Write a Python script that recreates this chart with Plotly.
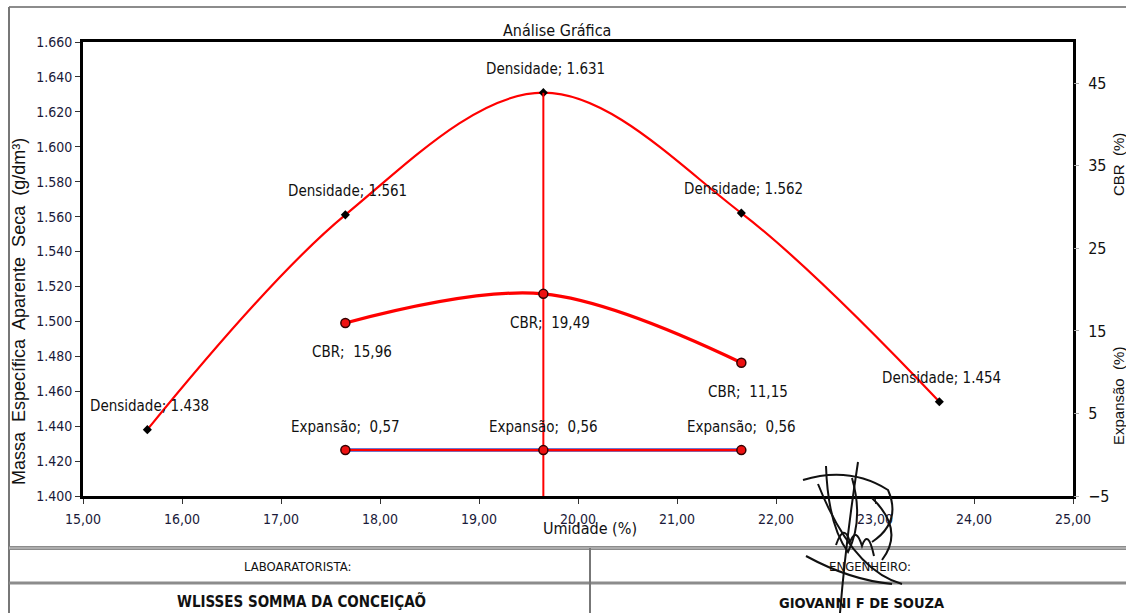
import plotly.graph_objects as go

# Compaction test results
umidade = [15.65, 17.65, 19.65, 21.65, 23.65]
densidade = [1.438, 1.561, 1.631, 1.562, 1.454]

umidade_cbr = [17.65, 19.65, 21.65]
cbr = [15.96, 19.49, 11.15]
expansao = [0.57, 0.56, 0.56]

x_ticks = [15, 16, 17, 18, 19, 20, 21, 22, 23, 24, 25]
x_tick_labels = ["15,00", "16,00", "17,00", "18,00", "19,00", "20,00",
                 "21,00", "22,00", "23,00", "24,00", "25,00"]
y_ticks = [1.40, 1.42, 1.44, 1.46, 1.48, 1.50, 1.52, 1.54, 1.56, 1.58, 1.60, 1.62, 1.64, 1.66]
y_tick_labels = ["1.400", "1.420", "1.440", "1.460", "1.480", "1.500", "1.520", "1.540",
                 "1.560", "1.580", "1.600", "1.620", "1.640", "1.660"]
y2_ticks = [-5, 5, 15, 25, 35, 45]

W, H = 1126, 613
L, R, T, B = 83, 1073, 42, 496

NARROW = "DejaVu Sans Condensed, Liberation Sans Narrow, Arial Narrow, Liberation Sans, sans-serif"
REG = "Liberation Sans, Arial, sans-serif"


def px(x):
    return (x - L) / (R - L)


def py(y):
    return (B - y) / (B - T)


def comma(v):
    return f"{v:.2f}".replace(".", ",")


fig = go.Figure()

# Dry density curve
fig.add_trace(go.Scatter(
    x=umidade, y=densidade, mode="lines+markers",
    line=dict(color="#ff0000", width=2.2, shape="spline", smoothing=1.0),
    marker=dict(symbol="diamond", size=7, color="black"),
    hoverinfo="skip", showlegend=False))

# Optimum moisture marker line
i_max = densidade.index(max(densidade))
fig.add_trace(go.Scatter(
    x=[umidade[i_max], umidade[i_max]], y=[y_ticks[0], densidade[i_max]],
    mode="lines", line=dict(color="#ff0000", width=2),
    hoverinfo="skip", showlegend=False))

# Expansion (secondary axis)
fig.add_trace(go.Scatter(
    x=umidade_cbr, y=expansao, mode="lines", yaxis="y2",
    line=dict(color="#3b4fc4", width=3.5),
    hoverinfo="skip", showlegend=False))
fig.add_trace(go.Scatter(
    x=umidade_cbr, y=expansao, mode="lines+markers", yaxis="y2",
    line=dict(color="#ff0000", width=2.2),
    marker=dict(symbol="circle", size=9, color="#ee1111",
                line=dict(color="#330000", width=1.5)),
    hoverinfo="skip", showlegend=False))

# CBR curve (secondary axis)
fig.add_trace(go.Scatter(
    x=umidade_cbr, y=cbr, mode="lines+markers", yaxis="y2",
    line=dict(color="#ff0000", width=3.2, shape="spline", smoothing=1.0),
    marker=dict(symbol="circle", size=9, color="#ee1111",
                line=dict(color="#330000", width=1.5)),
    hoverinfo="skip", showlegend=False))

annotations = []
label_font = dict(family=NARROW, size=15, color="#111111")
for xv, yv in zip(umidade, densidade):
    annotations.append(dict(x=xv, y=yv, xref="x", yref="y", text=f"Densidade; {yv:.3f}",
                            showarrow=False, yshift=24, xshift=2, font=label_font))
for xv, yv in zip(umidade_cbr, cbr):
    annotations.append(dict(x=xv, y=yv, xref="x", yref="y2", text=f"CBR;  {comma(yv)}",
                            showarrow=False, yshift=-29, xshift=7, font=label_font))
for xv, yv in zip(umidade_cbr, expansao):
    annotations.append(dict(x=xv, y=yv, xref="x", yref="y2", text=f"Expansão;  {comma(yv)}",
                            showarrow=False, yshift=23, xshift=0, font=label_font))


# Titles and axis captions
def text_at(x, y, s, size, family=NARROW, angle=0, bold=False, color="#111111"):
    annotations.append(dict(
        x=px(x), y=py(y), xref="paper", yref="paper",
        text=f"<b>{s}</b>" if bold else s, showarrow=False, textangle=angle,
        xanchor="center", yanchor="middle",
        font=dict(family=family, size=size, color=color)))


text_at(557, 31, "Análise Gráfica", 16)
text_at(590, 528, "Umidade (%)", 16)
text_at(19, 312, "Massa  Específica  Aparente  Seca  (g/dm³)", 18, family=REG, angle=-90)
text_at(1118, 165, "CBR  (%)", 15, family=REG, angle=-90)
text_at(1118, 396, "Expansão  (%)", 15, family=REG, angle=-90)
text_at(297, 566, "LABOARATORISTA:", 13)
text_at(870, 566, "ENGENHEIRO:", 13)
text_at(301, 601, "WLISSES SOMMA DA CONCEIÇAÕ", 15, bold=True)
text_at(862, 603, "GIOVANNI F DE SOUZA", 14.5, bold=True)

shapes = []


def hline(y, x0, x1, color="#8c8c8c", width=3):
    shapes.append(dict(type="line", xref="paper", yref="paper",
                       x0=px(x0), x1=px(x1), y0=py(y), y1=py(y),
                       line=dict(color=color, width=width)))


def vline(x, y0, y1, color="#8c8c8c", width=3):
    shapes.append(dict(type="line", xref="paper", yref="paper",
                       x0=px(x), x1=px(x), y0=py(y0), y1=py(y1),
                       line=dict(color=color, width=width)))


# Sheet frame and signature table
hline(7, 9, 1126, width=2)
vline(9, 7, 613, color="#777777", width=2)
hline(548, 9, 1126, width=4)
hline(548, 9, 1126, color="#cfcfcf", width=1)
hline(583, 9, 1126, width=3)
vline(590, 548, 613, color="#777777", width=2)


# Hand signature strokes
def stroke(points):
    d = "M {} {}".format(px(points[0][0]), py(points[0][1]))
    for i in range(1, len(points) - 1, 2):
        (cx, cy), (ex, ey) = points[i], points[i + 1]
        d += " Q {} {} {} {}".format(px(cx), py(cy), px(ex), py(ey))
    shapes.append(dict(type="path", xref="paper", yref="paper", path=d,
                       line=dict(color="#111111", width=2)))


stroke([(803, 480), (850, 466), (888, 490), (902, 522), (872, 542)])
stroke([(858, 462), (846, 540), (840, 613)])
stroke([(826, 466), (828, 525), (848, 552), (864, 520), (852, 478)])
stroke([(818, 484), (852, 570), (902, 584)])
stroke([(806, 556), (850, 580), (892, 584)])
stroke([(836, 545), (844, 522), (850, 542), (856, 526), (862, 546), (868, 528), (874, 556)])
stroke([(872, 498), (905, 530), (882, 560)])

fig.update_layout(
    width=W, height=H,
    margin=dict(l=L, r=W - R, t=T, b=H - B, pad=0),
    paper_bgcolor="white", plot_bgcolor="white",
    showlegend=False,
    xaxis=dict(range=[15, 25], tickvals=x_ticks, ticktext=x_tick_labels,
               showgrid=False, zeroline=False, showline=True, linecolor="black",
               linewidth=3, mirror=True, ticks="outside", ticklen=5, tickcolor="#333333",
               ticklabelstandoff=3,
               tickfont=dict(family=NARROW, size=14, color="#1a1a3a")),
    yaxis=dict(range=[1.40, 1.66], tickvals=y_ticks, ticktext=y_tick_labels,
               showgrid=False, zeroline=False, showline=True, linecolor="black",
               linewidth=3, mirror=True, ticks="outside", ticklen=5, tickcolor="#333333",
               tickfont=dict(family=NARROW, size=14, color="#1a1a3a")),
    yaxis2=dict(range=[-5, 50], tickvals=y2_ticks, overlaying="y", side="right",
                showgrid=False, zeroline=False, showline=False,
                ticks="outside", ticklen=5, tickcolor="#aaaaaa",
                ticklabelstandoff=6,
                tickfont=dict(family=NARROW, size=16, color="#111111")),
    annotations=annotations,
    shapes=shapes,
)

fig.write_html("out.html")
